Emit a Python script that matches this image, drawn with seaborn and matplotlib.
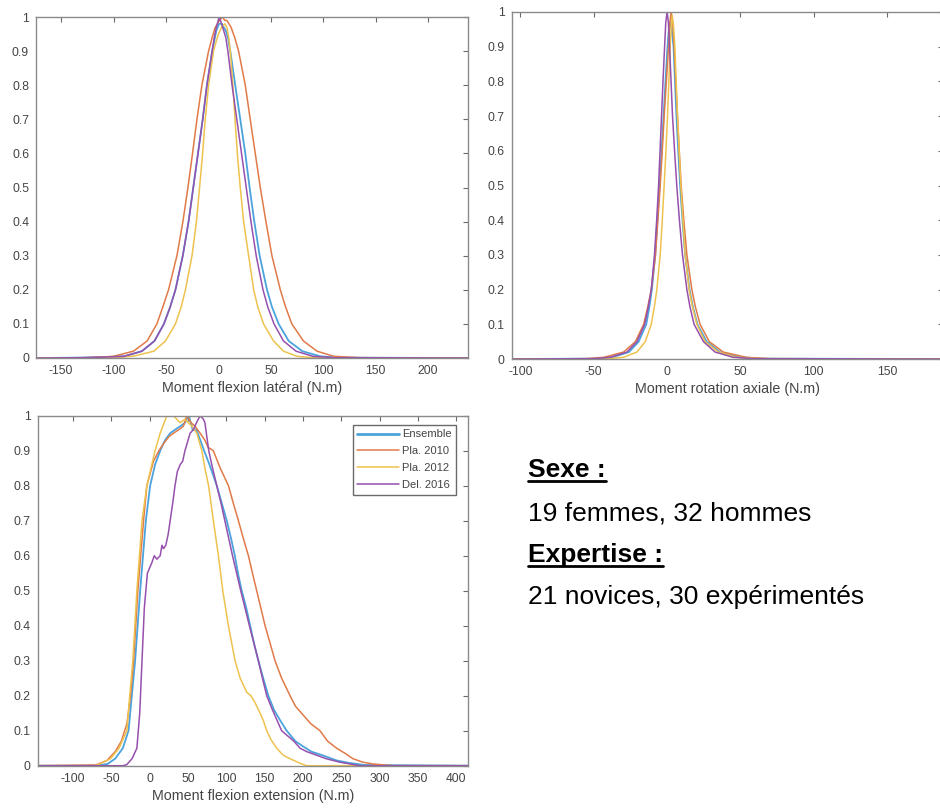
import numpy as np
import pandas as pd
import seaborn as sns
import matplotlib.pyplot as plt
from matplotlib.lines import Line2D

# Normalised distributions of the lumbar moments
series_names = ["Ensemble", "Pla. 2010", "Pla. 2012", "Del. 2016"]
series_colors = ["#4aa3dc", "#e07a48", "#eec24e", "#9650ad"]

# --- Moment flexion latéral ---
lat_ens_x = [-174, -130, -105, -90, -73, -61, -52, -46, -41, -34, -28.5, -24, -19.5, -15, -11, -6, -4, -2,
             0.5, 3.3, 5, 7, 9, 11.3, 16, 20.8, 25.6, 29.7, 34.2, 39.3, 46.3, 51, 57.4, 67, 80, 97, 115, 238]
lat_ens_y = [0, 0.001, 0.003, 0.005, 0.02, 0.05, 0.1, 0.15, 0.2, 0.3, 0.4, 0.5, 0.6, 0.7, 0.8, 0.9, 0.93,
             0.96, 0.98, 0.98, 0.97, 0.96, 0.94, 0.9, 0.8, 0.7, 0.6, 0.5, 0.4, 0.3, 0.2, 0.15, 0.1, 0.05,
             0.02, 0.005, 0.001, 0]
lat_p10_x = [-174, -125, -110, -100, -81, -68, -58.7, -53, -47.6, -39.6, -33.9, -29.1, -24.7, -20.5,
             -15.8, -9.4, -6, -3, 1, 4, 6, 8, 10, 12, 15.5, 19.2, 25.6, 30.3, 35.1, 39.9, 45.3, 51, 59, 64,
             70, 81, 94, 110, 135, 238]
lat_p10_y = [0, 0.001, 0.003, 0.005, 0.02, 0.05, 0.1, 0.15, 0.2, 0.3, 0.4, 0.5, 0.6, 0.7, 0.8, 0.9,
             0.94, 0.97, 0.99, 1.0, 0.99, 0.99, 0.98, 0.97, 0.94, 0.9, 0.8, 0.7, 0.6, 0.5, 0.4, 0.3, 0.2,
             0.15, 0.1, 0.05, 0.02, 0.005, 0.001, 0]
lat_p12_x = [-174, -100, -80, -61.6, -50.5, -41, -35.5, -31.5, -25.2, -21, -18, -15.1, -12.6, -9.4,
             -4.7, -2, 0, 3, 6, 8, 9.8, 11.3, 13.8, 15.8, 18, 20.8, 24, 28.8, 33.6, 37.5, 43, 52.5, 62,
             75, 90, 238]
lat_p12_y = [0, 0.001, 0.006, 0.02, 0.05, 0.1, 0.15, 0.2, 0.3, 0.4, 0.5, 0.6, 0.7, 0.8, 0.9, 0.93,
             0.95, 0.97, 0.98, 0.97, 0.94, 0.9, 0.8, 0.7, 0.6, 0.5, 0.4, 0.3, 0.2, 0.15, 0.1, 0.05, 0.02,
             0.005, 0.001, 0]
lat_del_x = [-174, -130, -105, -90, -73, -61, -52, -46, -41, -34, -28.5, -24, -19.5, -15, -11, -6, -4,
             -2, 0.8, 3, 5, 7, 9, 13, 17.5, 22, 26.5, 31, 36, 42.5, 47, 53, 62, 74, 90, 110, 238]
lat_del_y = [0, 0.001, 0.003, 0.005, 0.02, 0.05, 0.1, 0.15, 0.2, 0.3, 0.4, 0.5, 0.6, 0.7, 0.8, 0.9,
             0.94, 0.97, 1.0, 0.98, 0.96, 0.94, 0.9, 0.8, 0.7, 0.6, 0.5, 0.4, 0.3, 0.2, 0.15, 0.1, 0.05,
             0.02, 0.005, 0.001, 0]

# --- Moment rotation axiale ---
rot_ens_x = [-106, -50, -37.5, -26, -19.4, -14.2, -12.1, -10.4, -8.1, -6.6, -5.1, -3.7, -2.4, -1.1,
             0.3, 1.2, 2, 3.2, 4.4, 5.4, 6.4, 7.6, 8.9, 10.5, 12.3, 15.3, 17.6, 20.7, 27, 36, 49.7, 65, 188]
rot_ens_y = [0, 0.001, 0.005, 0.02, 0.05, 0.1, 0.15, 0.2, 0.3, 0.4, 0.5, 0.6, 0.7, 0.8, 0.9, 0.95,
             0.97, 0.95, 0.9, 0.8, 0.7, 0.6, 0.5, 0.4, 0.3, 0.2, 0.15, 0.1, 0.05, 0.02, 0.005, 0.001, 0]
rot_p10_x = [-106, -55, -43, -29.7, -21.6, -16, -13.2, -10.8, -7.9, -6.3, -4.7, -3.3, -2, -0.5, 1,
             1.9, 2.8, 3.8, 4.8, 5.9, 7.1, 8.3, 9.6, 11.4, 13.5, 16.9, 19.3, 22.5, 28.8, 38.3, 54, 70, 188]
rot_p10_y = [0, 0.001, 0.005, 0.02, 0.05, 0.1, 0.15, 0.2, 0.3, 0.4, 0.5, 0.6, 0.7, 0.8, 0.9, 0.97,
             1.0, 0.97, 0.9, 0.8, 0.7, 0.6, 0.5, 0.4, 0.3, 0.2, 0.15, 0.1, 0.05, 0.02, 0.005, 0.001, 0]
rot_p12_x = [-106, -40, -29.7, -20.6, -14.9, -10.8, -8.7, -7, -4.7, -3.3, -2, -0.8, 0.3, 1.2, 2.1,
             2.8, 3.5, 4.4, 5.3, 6.2, 7.1, 8.2, 9.4, 10.8, 12.3, 15, 17.3, 20.3, 25.9, 35, 47.5, 62, 188]
rot_p12_y = [0, 0.001, 0.005, 0.02, 0.05, 0.1, 0.15, 0.2, 0.3, 0.4, 0.5, 0.6, 0.7, 0.8, 0.9, 0.96,
             0.99, 0.96, 0.9, 0.8, 0.7, 0.6, 0.5, 0.4, 0.3, 0.2, 0.15, 0.1, 0.05, 0.02, 0.005, 0.001, 0]
rot_del_x = [-106, -50, -38.7, -27.4, -20.6, -15.3, -12.8, -10.8, -8.6, -7.1, -5.8, -4.8, -3.8, -2.8,
             -1.7, -0.9, 0, 0.9, 1.7, 2.7, 3.7, 5.1, 6.6, 8.4, 10.5, 13.5, 15.6, 18.4, 24.8, 32.7, 45, 60, 188]
rot_del_y = [0, 0.001, 0.005, 0.02, 0.05, 0.1, 0.15, 0.2, 0.3, 0.4, 0.5, 0.6, 0.7, 0.8, 0.9, 0.97,
             1.0, 0.97, 0.9, 0.8, 0.7, 0.6, 0.5, 0.4, 0.3, 0.2, 0.15, 0.1, 0.05, 0.02, 0.005, 0.001, 0]

# --- Moment flexion extension ---
ext_ens_x = [-146, -70, -55, -45, -35, -27.6, -19, -12.4, -5, 0.6, 7, 13.7, 20, 26.7, 33, 40, 46, 51, 56,
             61, 66, 71, 78, 87.5, 94, 100.5, 106, 111, 116, 120, 126, 131, 136, 141.7, 148, 154.7, 162,
             170, 178.6, 190, 200, 211, 225, 243.7, 260, 280, 415]
ext_ens_y = [0, 0, 0.005, 0.02, 0.05, 0.1, 0.3, 0.5, 0.7, 0.8, 0.86, 0.9, 0.93, 0.95, 0.96, 0.97, 0.98,
             1.0, 0.96, 0.96, 0.93, 0.9, 0.86, 0.8, 0.75, 0.7, 0.65, 0.6, 0.54, 0.5, 0.45, 0.4, 0.35,
             0.3, 0.25, 0.2, 0.16, 0.13, 0.1, 0.07, 0.055, 0.04, 0.03, 0.015, 0.008, 0.002, 0]
ext_p10_x = [-146, -70, -55.7, -45, -37, -29.7, -25, -21, -15.4, -8, -3.7, 5, 12, 18, 25, 31, 38, 44,
             48.4, 54, 59, 65.8, 72, 76, 83, 92, 102.7, 109, 115.7, 122, 128.7, 134, 139.5, 145, 150.4,
             157, 163.4, 172, 183, 190, 198, 210, 222, 232, 243.7, 255, 265, 278, 291, 317, 415]
ext_p10_y = [0, 0.002, 0.015, 0.04, 0.07, 0.12, 0.2, 0.3, 0.5, 0.7, 0.8, 0.87, 0.9, 0.92, 0.94, 0.95,
             0.96, 0.97, 1.0, 0.98, 0.97, 0.95, 0.93, 0.91, 0.9, 0.85, 0.8, 0.75, 0.7, 0.65, 0.6, 0.55,
             0.5, 0.45, 0.4, 0.35, 0.3, 0.25, 0.2, 0.17, 0.15, 0.12, 0.1, 0.07, 0.05, 0.035, 0.02, 0.01,
             0.005, 0, 0]
ext_p12_x = [-146, -70, -51, -40, -29.7, -26, -22, -16.7, -10, -3.7, 7, 13.7, 22.4, 31, 39.7, 46, 55,
             61.4, 68, 72, 76.8, 83, 89.6, 95.3, 102.6, 111.3, 118, 126.5, 132, 137.4, 144, 148, 152.6,
             158, 165.6, 174, 183, 195, 204.6, 415]
ext_p12_y = [0, 0, 0.02, 0.05, 0.1, 0.2, 0.3, 0.5, 0.7, 0.8, 0.9, 0.95, 1.0, 1.0, 0.98, 0.99, 0.97,
             0.95, 0.9, 0.85, 0.8, 0.7, 0.6, 0.5, 0.4, 0.3, 0.25, 0.21, 0.2, 0.18, 0.15, 0.13, 0.1,
             0.075, 0.05, 0.03, 0.02, 0.008, 0, 0]
ext_del_x = [-146, -35, -30, -23, -16.7, -13, -10, -7, -3, 2.8, 6, 9.3, 13.7, 16, 18, 21, 24, 26.7, 30,
             33, 36, 39.7, 43, 46, 52.7, 57, 61, 65.8, 70, 72, 77, 82, 87.5, 93, 98, 108, 118.7, 130,
             141.7, 147, 152.6, 160, 166, 172, 180, 188, 196, 205, 217.7, 230, 248, 274, 415]
ext_del_y = [0, 0, 0.003, 0.02, 0.05, 0.15, 0.3, 0.45, 0.55, 0.58, 0.6, 0.59, 0.6, 0.63, 0.62, 0.63,
             0.66, 0.7, 0.75, 0.8, 0.84, 0.86, 0.87, 0.9, 0.95, 0.96, 0.98, 1.0, 0.99, 0.98, 0.9, 0.85,
             0.8, 0.75, 0.7, 0.6, 0.5, 0.4, 0.3, 0.25, 0.2, 0.16, 0.13, 0.1, 0.085, 0.07, 0.05, 0.04,
             0.03, 0.02, 0.01, 0, 0]

info_lines = ["Sexe :", "19 femmes, 32 hommes", "Expertise :", "21 novices, 30 expérimentés"]


def to_frame(curves):
    frames = []
    for name, (xs, ys) in zip(series_names, curves):
        frames.append(pd.DataFrame({"moment": xs, "freq": ys, "source": name}))
    return pd.concat(frames, ignore_index=True)


panels = [
    dict(df=to_frame([(lat_ens_x, lat_ens_y), (lat_p10_x, lat_p10_y),
                      (lat_p12_x, lat_p12_y), (lat_del_x, lat_del_y)]),
         pos=[36 / 940, 1 - 358 / 810, 432 / 940, 341 / 810],
         xlim=(-174, 238), xticks=np.arange(-150, 201, 50),
         xlabel="Moment flexion latéral (N.m)"),
    dict(df=to_frame([(rot_ens_x, rot_ens_y), (rot_p10_x, rot_p10_y),
                      (rot_p12_x, rot_p12_y), (rot_del_x, rot_del_y)]),
         pos=[511.7 / 940, 1 - 359 / 810, 431 / 940, 347 / 810],
         xlim=(-106, 188), xticks=np.arange(-100, 151, 50),
         xlabel="Moment rotation axiale (N.m)"),
    dict(df=to_frame([(ext_ens_x, ext_ens_y), (ext_p10_x, ext_p10_y),
                      (ext_p12_x, ext_p12_y), (ext_del_x, ext_del_y)]),
         pos=[37.7 / 940, 1 - 765.7 / 810, 430.3 / 940, 350 / 810],
         xlim=(-146, 415), xticks=np.arange(-100, 401, 50),
         xlabel="Moment flexion extension (N.m)"),
]

sns.set_style("white")
plt.rcParams["font.family"] = ["Liberation Sans", "DejaVu Sans"]
plt.rcParams["axes.unicode_minus"] = False

fig = plt.figure(figsize=(9.4, 8.1), dpi=100)
palette = dict(zip(series_names, series_colors))
yticks = np.round(np.arange(0, 1.01, 0.1), 1)

for i, p in enumerate(panels):
    ax = fig.add_axes(p["pos"])
    sns.lineplot(data=p["df"], x="moment", y="freq", hue="source", hue_order=series_names,
                 palette=palette, estimator=None, sort=False, linewidth=1.1, legend=False, ax=ax)
    ax.lines[0].set_linewidth(1.3)
    ax.set_xlim(p["xlim"])
    ax.set_ylim(0, 1)
    ax.set_xticks(p["xticks"])
    ax.set_xticklabels([str(v) for v in p["xticks"]])
    ax.set_yticks(yticks)
    ax.set_yticklabels([f"{v:g}" for v in yticks])
    ax.tick_params(direction="in", top=True, right=True, length=3.5, width=0.8,
                   color="#6a6a6a", labelcolor="#444444", labelsize=8.8, pad=5)
    for s in ax.spines.values():
        s.set_color("#8a8a8a")
        s.set_linewidth(1.0)
    ax.set_xlabel(p["xlabel"], fontsize=10.3, color="#444444", labelpad=3)
    ax.set_ylabel("")

    if i == 2:
        handles = [Line2D([], [], color=c, lw=(2.0 if n == "Ensemble" else 1.1))
                   for n, c in zip(series_names, series_colors)]
        leg = ax.legend(handles, series_names, loc="upper right",
                        bbox_to_anchor=(456 / 940, 1 - 425 / 810), bbox_transform=fig.transFigure,
                        borderaxespad=0, fontsize=8, frameon=True, fancybox=False, framealpha=1,
                        edgecolor="#6a6a6a", handlelength=3.7, handletextpad=0.3,
                        labelspacing=0.62, borderpad=0.4)
        leg.get_frame().set_linewidth(1.0)
        for t in leg.get_texts():
            t.set_color("#444444")

# text block on the right
x0 = 528.3 / 940
baselines = [476.7, 520, 561.7, 604]
texts = []
for line, b in zip(info_lines, baselines):
    bold = line.endswith(":")
    t = fig.text(x0, 1 - b / 810, line, fontsize=19, va="baseline", ha="left",
                 fontweight="bold" if bold else "normal", color="black")
    texts.append((t, b, bold))

fig.canvas.draw()
renderer = fig.canvas.get_renderer()
for t, b, bold in texts:
    if bold:
        bb = t.get_window_extent(renderer)
        xa, xb = bb.x0 / 940, bb.x1 / 940
        yy = 1 - (b + 4) / 810
        fig.add_artist(Line2D([xa, xb], [yy, yy], transform=fig.transFigure,
                              color="black", lw=2.0))

fig.savefig("out.png", dpi=100)
